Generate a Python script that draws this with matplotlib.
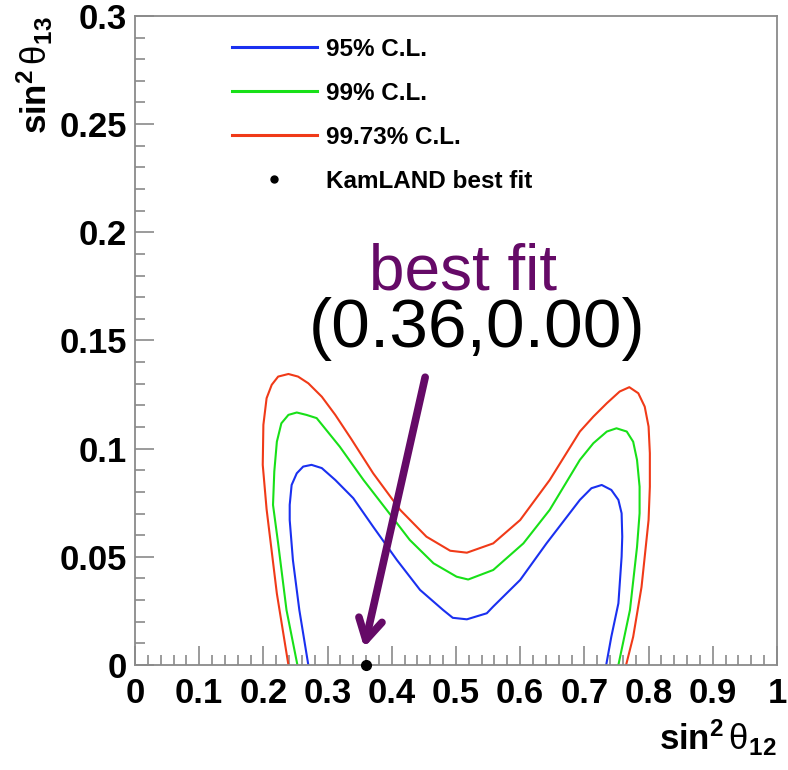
import matplotlib
matplotlib.use('Agg')
import matplotlib.pyplot as plt
from matplotlib.lines import Line2D
from matplotlib.ticker import FixedLocator, MultipleLocator

# allowed-region contours in the (sin^2 th12, sin^2 th13) plane
cl95_x = [0.270, 0.256, 0.246, 0.241, 0.241, 0.244, 0.252, 0.262, 0.275, 0.291, 0.312, 0.340, 0.371, 0.408,
          0.444, 0.480, 0.495, 0.517, 0.548, 0.558, 0.600, 0.641, 0.693, 0.711, 0.727, 0.742, 0.753, 0.758,
          0.759, 0.758, 0.753, 0.742, 0.734]
cl95_y = [0.0, 0.0254, 0.0485, 0.067, 0.074, 0.0832, 0.0886, 0.0917, 0.0925, 0.091, 0.0855, 0.0771, 0.0639, 0.0485,
          0.0347, 0.0254, 0.0218, 0.0211, 0.0239, 0.027, 0.0393, 0.0562, 0.0763, 0.0817, 0.0832, 0.0809, 0.0763, 0.0701,
          0.0593, 0.050, 0.0285, 0.0131, 0.0]

cl99_x = [0.253, 0.236, 0.223, 0.215, 0.217, 0.221, 0.228, 0.239, 0.252, 0.267, 0.283, 0.319, 0.356, 0.392,
          0.428, 0.465, 0.501, 0.519, 0.558, 0.605, 0.646, 0.693, 0.714, 0.735, 0.750, 0.766, 0.776, 0.782,
          0.786, 0.786, 0.782, 0.771, 0.753]
cl99_y = [0.0, 0.0254, 0.0562, 0.074, 0.0894, 0.1032, 0.1117, 0.1156, 0.1167, 0.1156, 0.1141, 0.1009, 0.0855, 0.0717,
          0.0578, 0.047, 0.0408, 0.0395, 0.0439, 0.0562, 0.0717, 0.0948, 0.1025, 0.1079, 0.1094, 0.1079, 0.1032, 0.0948,
          0.0824, 0.0701, 0.0545, 0.0254, 0.0]

cl9973_x = [0.239, 0.221, 0.205, 0.199, 0.200, 0.205, 0.213, 0.223, 0.239, 0.254, 0.270, 0.291, 0.312, 0.337,
            0.371, 0.413, 0.454, 0.491, 0.517, 0.558, 0.600, 0.646, 0.693, 0.714, 0.735, 0.755, 0.770, 0.784,
            0.794, 0.800, 0.802, 0.802, 0.800, 0.794, 0.789, 0.776, 0.765]
cl9973_y = [0.0, 0.033, 0.072, 0.0925, 0.111, 0.1233, 0.1295, 0.1333, 0.1345, 0.1333, 0.1302, 0.124, 0.1156, 0.1044,
            0.0886, 0.0717, 0.0593, 0.0528, 0.0519, 0.0562, 0.067, 0.0855, 0.1079, 0.1148, 0.121, 0.1264, 0.1284, 0.1256,
            0.1194, 0.1102, 0.0979, 0.0824, 0.067, 0.050, 0.036, 0.013, 0.0]

best_fit = (0.36, 0.00)
legend_labels = ['95% C.L.', '99% C.L.', '99.73% C.L.', 'KamLAND best fit']

x_ticks = [0, 0.1, 0.2, 0.3, 0.4, 0.5, 0.6, 0.7, 0.8, 0.9, 1.0]
x_tick_labels = ['0', '0.1', '0.2', '0.3', '0.4', '0.5', '0.6', '0.7', '0.8', '0.9', '1']
y_ticks = [0, 0.05, 0.1, 0.15, 0.2, 0.25, 0.3]
y_tick_labels = ['0', '0.05', '0.1', '0.15', '0.2', '0.25', '0.3']

plt.rcParams['font.family'] = ['Liberation Sans', 'DejaVu Sans']
plt.rcParams['mathtext.fontset'] = 'custom'
plt.rcParams['mathtext.rm'] = 'Liberation Sans'
plt.rcParams['mathtext.it'] = 'Liberation Sans:italic'
plt.rcParams['mathtext.bf'] = 'Liberation Sans:bold'

blue = '#1a30f0'
green = '#18e018'
red = '#f03a18'
purple = '#650a67'
frame = '#8a8a8a'

fig = plt.figure(figsize=(7.88, 7.7), dpi=100)
ax = fig.add_axes([0.1713, 0.1364, 0.8147, 0.8429])

ax.plot(cl95_x, cl95_y, color=blue, lw=1.5, solid_joinstyle='round')
ax.plot(cl99_x, cl99_y, color=green, lw=1.5, solid_joinstyle='round')
ax.plot(cl9973_x, cl9973_y, color=red, lw=1.5, solid_joinstyle='round')
ax.plot([best_fit[0]], [best_fit[1]], 'o', color='black', ms=7, clip_on=False, zorder=5)

ax.set_xlim(0, 1)
ax.set_ylim(0, 0.3)

ax.xaxis.set_major_locator(FixedLocator(x_ticks))
ax.set_xticklabels(x_tick_labels)
ax.xaxis.set_minor_locator(MultipleLocator(0.02))
ax.yaxis.set_major_locator(FixedLocator(y_ticks))
ax.set_yticklabels(y_tick_labels)
ax.yaxis.set_minor_locator(MultipleLocator(0.01))

ax.tick_params(which='both', direction='in', color=frame, width=1.2,
               top=False, right=False)
ax.tick_params(which='major', length=14, labelsize=25)
ax.tick_params(which='minor', length=7.5)
ax.tick_params(axis='x', which='major', pad=9)
ax.tick_params(axis='y', which='major', pad=6)
for lab in ax.get_xticklabels() + ax.get_yticklabels():
    lab.set_fontweight('bold')

for s in ax.spines.values():
    s.set_color(frame)
    s.set_linewidth(1.3)

ax.set_xlabel(r'$\mathbf{sin}^{\mathbf{2}}\,\mathrm{θ}_{\mathbf{12}}$', fontsize=25, loc='right')
ax.xaxis.set_label_coords(1.0, -0.082)
ax.xaxis.label.set_va('top')
ax.set_ylabel(r'$\mathbf{sin}^{\mathbf{2}}\,\mathrm{θ}_{\mathbf{13}}$', fontsize=25, loc='top')
ax.yaxis.set_label_coords(-0.125, 1.0)

handles = [Line2D([], [], color=blue, lw=2.2),
           Line2D([], [], color=green, lw=2.2),
           Line2D([], [], color=red, lw=2.2),
           Line2D([], [], ls='none', marker='o', color='black', ms=5)]
ax.legend(handles, legend_labels, loc='upper left', bbox_to_anchor=(0.151, 0.966),
          frameon=False, borderpad=0, borderaxespad=0, handlelength=3.5,
          handletextpad=0.35, labelspacing=0.86,
          prop=dict(family='Liberation Sans', weight='bold', size=17.5))

ax.annotate('', xy=(0.357, 0.008), xytext=(0.452, 0.133),
            arrowprops=dict(arrowstyle='->,head_length=1.5,head_width=0.85',
                            color=purple, lw=5.5, shrinkA=0, shrinkB=0))
ax.text(0.511, 0.1734, 'best fit', color=purple, fontsize=46, ha='center', va='baseline')
ax.text(0.533, 0.147, '(0.36,0.00)', color='black', fontsize=50, ha='center', va='baseline')

fig.savefig('out.png', dpi=100)
